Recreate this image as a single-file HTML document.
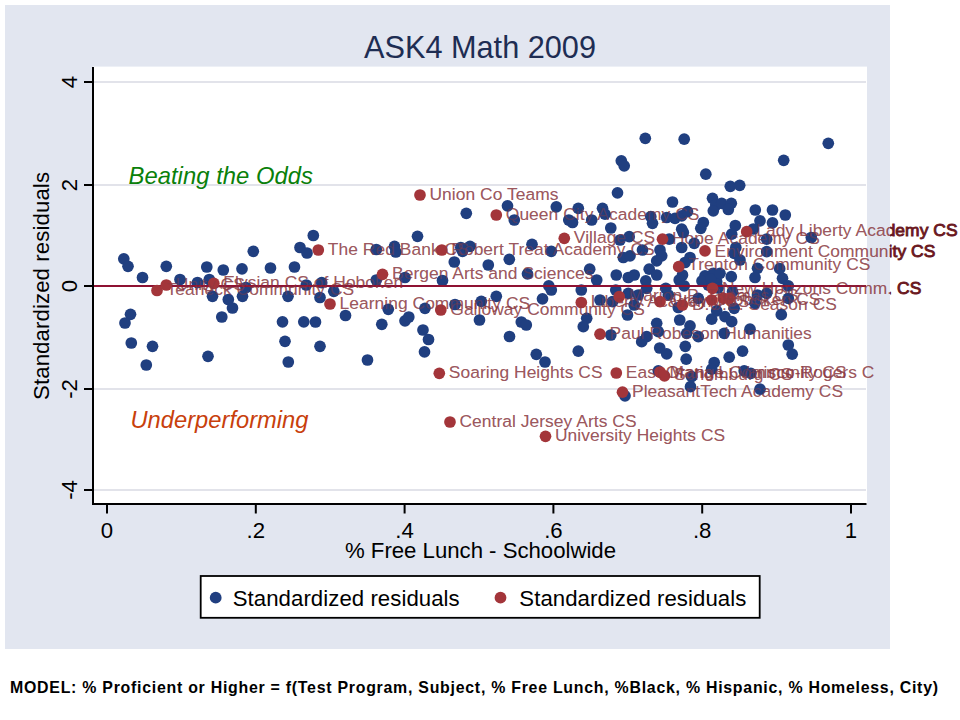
<!DOCTYPE html>
<html><head><meta charset="utf-8"><title>ASK4 Math 2009</title>
<style>html,body{margin:0;padding:0;background:#fff;}body{width:960px;height:720px;overflow:hidden;font-family:"Liberation Sans",sans-serif;}svg{display:block;font-family:"Liberation Sans",sans-serif;}</style>
</head><body>
<svg width="960" height="720" viewBox="0 0 960 720">
<rect x="0" y="0" width="960" height="720" fill="#ffffff"/>
<rect x="5" y="5" width="885" height="644" fill="#e2e6f0"/>
<rect x="93" y="66.6" width="774" height="437.4" fill="#ffffff"/>
<line x1="94" x2="866" y1="82" y2="82" stroke="#e2e3ea" stroke-width="2"/>
<line x1="94" x2="866" y1="185" y2="185" stroke="#e2e3ea" stroke-width="2"/>
<line x1="94" x2="866" y1="389" y2="389" stroke="#e2e3ea" stroke-width="2"/>
<line x1="94" x2="866" y1="490" y2="490" stroke="#e2e3ea" stroke-width="2"/>
<text x="480" y="58" font-size="30.7" fill="#1e2d53" text-anchor="middle">ASK4 Math 2009</text>
<text x="128.5" y="183.5" font-size="23.8" font-style="italic" fill="#0a800a" textLength="184.5" lengthAdjust="spacing">Beating the Odds</text>
<text x="130.5" y="427.5" font-size="23.7" font-style="italic" fill="#c8400c" textLength="178" lengthAdjust="spacing">Underperforming</text>
<defs><clipPath id="cin0"><rect x="0" y="0" width="890" height="720"/></clipPath></defs>
<g fill="#8a3a42" fill-opacity="0.72" font-size="17.4" clip-path="url(#cin0)">
<text x="166.5" y="295.0" textLength="187.7" lengthAdjust="spacing">Teaneck Community CS</text>
<text x="175.8" y="289.5" textLength="69.0" lengthAdjust="spacing">Unity CS</text>
<text x="223.3" y="287.8" textLength="179.9" lengthAdjust="spacing">Elysian CS of Hoboken</text>
<text x="327.8" y="254.5" textLength="141.0" lengthAdjust="spacing">The Red Bank CS</text>
<text x="339.5" y="308.5" textLength="190.6" lengthAdjust="spacing">Learning Community CS</text>
<text x="429.5" y="199.5" textLength="129.0" lengthAdjust="spacing">Union Co Teams</text>
<text x="505.8" y="219.5" textLength="193.6" lengthAdjust="spacing">Queen City Academy CS</text>
<text x="451.3" y="254.5" textLength="203.3" lengthAdjust="spacing">Robert Treat Academy CS</text>
<text x="392.0" y="278.8" textLength="201.4" lengthAdjust="spacing">Bergen Arts and Sciences</text>
<text x="450.3" y="314.5" textLength="194.5" lengthAdjust="spacing">Galloway Community CS</text>
<text x="573.8" y="242.8" textLength="81.4" lengthAdjust="spacing">Village CS</text>
<text x="448.8" y="377.8" textLength="153.7" lengthAdjust="spacing">Soaring Heights CS</text>
<text x="459.5" y="426.5" textLength="177.0" lengthAdjust="spacing">Central Jersey Arts CS</text>
<text x="555.0" y="440.8" textLength="170.2" lengthAdjust="spacing">University Heights CS</text>
<text x="672.0" y="243.7" textLength="147.8" lengthAdjust="spacing">Hope Academy CS</text>
<text x="714.5" y="256.8" textLength="220.8" lengthAdjust="spacing">Environment Community CS</text>
<text x="688.2" y="270.2" textLength="182.2" lengthAdjust="spacing">Trenton Community CS</text>
<text x="722.0" y="294.3" textLength="199.3" lengthAdjust="spacing">New Horizons Comm. CS</text>
<text x="590.8" y="307.0" textLength="158.5" lengthAdjust="spacing">Liberty Academy CS</text>
<text x="628.7" y="301.2" textLength="169.6" lengthAdjust="spacing">Marion P. Thomas CS</text>
<text x="669.5" y="306.2" textLength="67.1" lengthAdjust="spacing">Gray CS</text>
<text x="692.0" y="309.5" textLength="144.9" lengthAdjust="spacing">D.U.E. Season CS</text>
<text x="721.2" y="304.5" textLength="99.2" lengthAdjust="spacing">Hoboken CS</text>
<text x="609.5" y="338.7" textLength="202.3" lengthAdjust="spacing">Paul Robeson Humanities</text>
<text x="756.2" y="236.2" textLength="201.3" lengthAdjust="spacing">Lady Liberty Academy CS</text>
<text x="625.8" y="377.5" textLength="220.8" lengthAdjust="spacing">East Orange Community CS</text>
<text x="669.5" y="377.5" textLength="204.9" lengthAdjust="spacing">Maria L. Varisco-Rogers C</text>
<text x="632.0" y="396.7" textLength="211.1" lengthAdjust="spacing">PleasantTech Academy CS</text>
<text x="674.0" y="380.3" textLength="118.7" lengthAdjust="spacing">Schomburg CS</text>
</g>
<g fill="#203f80">
<circle cx="123.8" cy="258.8" r="5.85"/>
<circle cx="128.0" cy="266.3" r="5.85"/>
<circle cx="142.5" cy="277.5" r="5.85"/>
<circle cx="166.3" cy="266.3" r="5.85"/>
<circle cx="180.0" cy="279.5" r="5.85"/>
<circle cx="197.5" cy="282.5" r="5.85"/>
<circle cx="206.8" cy="267.0" r="5.85"/>
<circle cx="209.3" cy="279.5" r="5.85"/>
<circle cx="223.3" cy="270.0" r="5.85"/>
<circle cx="242.0" cy="268.8" r="5.85"/>
<circle cx="253.3" cy="251.3" r="5.85"/>
<circle cx="270.5" cy="268.0" r="5.85"/>
<circle cx="294.5" cy="267.0" r="5.85"/>
<circle cx="313.3" cy="235.5" r="5.85"/>
<circle cx="300.0" cy="247.5" r="5.85"/>
<circle cx="307.0" cy="253.0" r="5.85"/>
<circle cx="212.5" cy="296.3" r="5.85"/>
<circle cx="228.3" cy="299.5" r="5.85"/>
<circle cx="232.5" cy="308.0" r="5.85"/>
<circle cx="242.5" cy="296.3" r="5.85"/>
<circle cx="246.0" cy="287.5" r="5.85"/>
<circle cx="221.8" cy="317.0" r="5.85"/>
<circle cx="130.5" cy="314.3" r="5.85"/>
<circle cx="125.0" cy="323.0" r="5.85"/>
<circle cx="131.3" cy="343.0" r="5.85"/>
<circle cx="152.5" cy="346.3" r="5.85"/>
<circle cx="146.3" cy="365.0" r="5.85"/>
<circle cx="208.0" cy="356.3" r="5.85"/>
<circle cx="282.5" cy="321.8" r="5.85"/>
<circle cx="288.0" cy="296.3" r="5.85"/>
<circle cx="303.8" cy="321.8" r="5.85"/>
<circle cx="315.5" cy="322.0" r="5.85"/>
<circle cx="285.0" cy="341.3" r="5.85"/>
<circle cx="288.3" cy="362.0" r="5.85"/>
<circle cx="320.0" cy="346.3" r="5.85"/>
<circle cx="320.0" cy="297.5" r="5.85"/>
<circle cx="306.3" cy="285.0" r="5.85"/>
<circle cx="333.8" cy="291.3" r="5.85"/>
<circle cx="321.7" cy="282.7" r="5.85"/>
<circle cx="466.3" cy="213.3" r="5.85"/>
<circle cx="507.5" cy="205.8" r="5.85"/>
<circle cx="514.3" cy="220.0" r="5.85"/>
<circle cx="556.3" cy="206.8" r="5.85"/>
<circle cx="417.5" cy="236.3" r="5.85"/>
<circle cx="376.3" cy="249.5" r="5.85"/>
<circle cx="394.5" cy="246.3" r="5.85"/>
<circle cx="395.8" cy="252.0" r="5.85"/>
<circle cx="460.8" cy="247.5" r="5.85"/>
<circle cx="462.5" cy="251.3" r="5.85"/>
<circle cx="470.0" cy="246.3" r="5.85"/>
<circle cx="532.0" cy="244.3" r="5.85"/>
<circle cx="551.3" cy="251.3" r="5.85"/>
<circle cx="454.3" cy="262.0" r="5.85"/>
<circle cx="488.3" cy="265.0" r="5.85"/>
<circle cx="509.3" cy="259.3" r="5.85"/>
<circle cx="527.5" cy="273.8" r="5.85"/>
<circle cx="405.0" cy="277.5" r="5.85"/>
<circle cx="442.5" cy="280.5" r="5.85"/>
<circle cx="376.3" cy="280.0" r="5.85"/>
<circle cx="548.8" cy="285.8" r="5.85"/>
<circle cx="551.3" cy="290.0" r="5.85"/>
<circle cx="542.5" cy="298.8" r="5.85"/>
<circle cx="496.3" cy="296.3" r="5.85"/>
<circle cx="481.3" cy="301.3" r="5.85"/>
<circle cx="455.0" cy="304.5" r="5.85"/>
<circle cx="425.0" cy="308.3" r="5.85"/>
<circle cx="388.3" cy="309.3" r="5.85"/>
<circle cx="345.5" cy="315.5" r="5.85"/>
<circle cx="381.8" cy="324.3" r="5.85"/>
<circle cx="405.0" cy="320.8" r="5.85"/>
<circle cx="408.8" cy="317.0" r="5.85"/>
<circle cx="423.0" cy="330.0" r="5.85"/>
<circle cx="428.5" cy="339.5" r="5.85"/>
<circle cx="479.5" cy="320.0" r="5.85"/>
<circle cx="521.3" cy="322.0" r="5.85"/>
<circle cx="526.3" cy="325.0" r="5.85"/>
<circle cx="509.5" cy="336.5" r="5.85"/>
<circle cx="568.8" cy="220.0" r="5.85"/>
<circle cx="424.5" cy="351.8" r="5.85"/>
<circle cx="367.5" cy="360.0" r="5.85"/>
<circle cx="536.3" cy="354.3" r="5.85"/>
<circle cx="545.0" cy="362.0" r="5.85"/>
<circle cx="645.3" cy="138.3" r="5.85"/>
<circle cx="684.2" cy="139.2" r="5.85"/>
<circle cx="621.3" cy="160.8" r="5.85"/>
<circle cx="624.2" cy="165.8" r="5.85"/>
<circle cx="705.8" cy="174.2" r="5.85"/>
<circle cx="617.5" cy="192.8" r="5.85"/>
<circle cx="672.5" cy="202.0" r="5.85"/>
<circle cx="712.5" cy="198.3" r="5.85"/>
<circle cx="715.8" cy="205.0" r="5.85"/>
<circle cx="713.3" cy="210.8" r="5.85"/>
<circle cx="578.3" cy="208.3" r="5.85"/>
<circle cx="602.5" cy="208.3" r="5.85"/>
<circle cx="605.0" cy="214.2" r="5.85"/>
<circle cx="572.5" cy="222.5" r="5.85"/>
<circle cx="591.7" cy="220.0" r="5.85"/>
<circle cx="610.8" cy="228.0" r="5.85"/>
<circle cx="650.8" cy="216.7" r="5.85"/>
<circle cx="652.5" cy="223.3" r="5.85"/>
<circle cx="666.7" cy="217.5" r="5.85"/>
<circle cx="675.0" cy="218.3" r="5.85"/>
<circle cx="681.7" cy="215.8" r="5.85"/>
<circle cx="687.5" cy="211.7" r="5.85"/>
<circle cx="703.3" cy="222.5" r="5.85"/>
<circle cx="700.8" cy="228.3" r="5.85"/>
<circle cx="681.7" cy="229.2" r="5.85"/>
<circle cx="828.3" cy="143.3" r="5.85"/>
<circle cx="783.7" cy="160.3" r="5.85"/>
<circle cx="730.3" cy="186.3" r="5.85"/>
<circle cx="739.7" cy="185.3" r="5.85"/>
<circle cx="721.7" cy="203.3" r="5.85"/>
<circle cx="731.3" cy="203.3" r="5.85"/>
<circle cx="728.3" cy="209.5" r="5.85"/>
<circle cx="755.3" cy="210.0" r="5.85"/>
<circle cx="772.5" cy="210.0" r="5.85"/>
<circle cx="785.3" cy="215.0" r="5.85"/>
<circle cx="760.0" cy="220.8" r="5.85"/>
<circle cx="772.5" cy="222.8" r="5.85"/>
<circle cx="735.3" cy="225.5" r="5.85"/>
<circle cx="753.3" cy="229.0" r="5.85"/>
<circle cx="629.2" cy="236.7" r="5.85"/>
<circle cx="620.0" cy="240.0" r="5.85"/>
<circle cx="683.3" cy="232.5" r="5.85"/>
<circle cx="669.2" cy="239.2" r="5.85"/>
<circle cx="694.2" cy="243.3" r="5.85"/>
<circle cx="681.7" cy="247.5" r="5.85"/>
<circle cx="642.5" cy="250.0" r="5.85"/>
<circle cx="623.3" cy="257.5" r="5.85"/>
<circle cx="630.0" cy="255.8" r="5.85"/>
<circle cx="660.0" cy="250.0" r="5.85"/>
<circle cx="661.7" cy="255.8" r="5.85"/>
<circle cx="656.7" cy="260.8" r="5.85"/>
<circle cx="690.0" cy="257.5" r="5.85"/>
<circle cx="685.0" cy="262.5" r="5.85"/>
<circle cx="589.7" cy="269.2" r="5.85"/>
<circle cx="596.7" cy="280.0" r="5.85"/>
<circle cx="616.3" cy="275.0" r="5.85"/>
<circle cx="628.3" cy="277.5" r="5.85"/>
<circle cx="634.2" cy="275.0" r="5.85"/>
<circle cx="649.2" cy="269.2" r="5.85"/>
<circle cx="656.7" cy="275.0" r="5.85"/>
<circle cx="645.8" cy="280.8" r="5.85"/>
<circle cx="682.5" cy="275.0" r="5.85"/>
<circle cx="679.2" cy="280.0" r="5.85"/>
<circle cx="684.2" cy="285.8" r="5.85"/>
<circle cx="705.0" cy="275.8" r="5.85"/>
<circle cx="713.3" cy="273.3" r="5.85"/>
<circle cx="708.3" cy="285.0" r="5.85"/>
<circle cx="716.7" cy="281.7" r="5.85"/>
<circle cx="581.3" cy="290.0" r="5.85"/>
<circle cx="615.8" cy="290.0" r="5.85"/>
<circle cx="646.7" cy="288.3" r="5.85"/>
<circle cx="665.8" cy="288.3" r="5.85"/>
<circle cx="628.3" cy="293.3" r="5.85"/>
<circle cx="600.0" cy="300.0" r="5.85"/>
<circle cx="612.5" cy="301.7" r="5.85"/>
<circle cx="634.2" cy="305.0" r="5.85"/>
<circle cx="627.5" cy="315.0" r="5.85"/>
<circle cx="586.7" cy="318.3" r="5.85"/>
<circle cx="583.3" cy="326.7" r="5.85"/>
<circle cx="679.7" cy="320.0" r="5.85"/>
<circle cx="656.7" cy="323.3" r="5.85"/>
<circle cx="658.3" cy="331.7" r="5.85"/>
<circle cx="690.0" cy="325.8" r="5.85"/>
<circle cx="686.7" cy="333.3" r="5.85"/>
<circle cx="711.7" cy="319.2" r="5.85"/>
<circle cx="716.7" cy="310.8" r="5.85"/>
<circle cx="610.8" cy="335.0" r="5.85"/>
<circle cx="646.7" cy="336.7" r="5.85"/>
<circle cx="698.3" cy="336.7" r="5.85"/>
<circle cx="678.3" cy="307.5" r="5.85"/>
<circle cx="638.3" cy="295.0" r="5.85"/>
<circle cx="668.3" cy="295.0" r="5.85"/>
<circle cx="698.3" cy="298.3" r="5.85"/>
<circle cx="702.0" cy="281.0" r="5.85"/>
<circle cx="711.0" cy="279.0" r="5.85"/>
<circle cx="718.0" cy="288.0" r="5.85"/>
<circle cx="731.7" cy="234.2" r="5.85"/>
<circle cx="811.3" cy="237.5" r="5.85"/>
<circle cx="766.7" cy="239.2" r="5.85"/>
<circle cx="735.8" cy="247.5" r="5.85"/>
<circle cx="734.2" cy="253.3" r="5.85"/>
<circle cx="766.7" cy="251.7" r="5.85"/>
<circle cx="740.0" cy="260.0" r="5.85"/>
<circle cx="757.5" cy="268.3" r="5.85"/>
<circle cx="755.0" cy="277.5" r="5.85"/>
<circle cx="779.7" cy="268.7" r="5.85"/>
<circle cx="782.5" cy="278.3" r="5.85"/>
<circle cx="731.3" cy="276.7" r="5.85"/>
<circle cx="720.0" cy="273.3" r="5.85"/>
<circle cx="788.3" cy="285.8" r="5.85"/>
<circle cx="732.5" cy="291.7" r="5.85"/>
<circle cx="757.5" cy="295.0" r="5.85"/>
<circle cx="766.7" cy="293.3" r="5.85"/>
<circle cx="755.0" cy="303.3" r="5.85"/>
<circle cx="788.3" cy="298.3" r="5.85"/>
<circle cx="734.2" cy="308.3" r="5.85"/>
<circle cx="781.3" cy="314.7" r="5.85"/>
<circle cx="725.0" cy="316.7" r="5.85"/>
<circle cx="731.7" cy="321.7" r="5.85"/>
<circle cx="750.0" cy="329.2" r="5.85"/>
<circle cx="724.2" cy="333.3" r="5.85"/>
<circle cx="578.3" cy="351.2" r="5.85"/>
<circle cx="641.7" cy="341.7" r="5.85"/>
<circle cx="659.7" cy="348.0" r="5.85"/>
<circle cx="666.7" cy="353.8" r="5.85"/>
<circle cx="685.3" cy="346.3" r="5.85"/>
<circle cx="686.2" cy="359.2" r="5.85"/>
<circle cx="714.2" cy="362.5" r="5.85"/>
<circle cx="711.7" cy="369.2" r="5.85"/>
<circle cx="658.3" cy="370.8" r="5.85"/>
<circle cx="690.5" cy="386.7" r="5.85"/>
<circle cx="625.0" cy="395.8" r="5.85"/>
<circle cx="691.7" cy="376.7" r="5.85"/>
<circle cx="742.5" cy="351.2" r="5.85"/>
<circle cx="729.2" cy="357.2" r="5.85"/>
<circle cx="788.3" cy="345.0" r="5.85"/>
<circle cx="792.2" cy="354.2" r="5.85"/>
<circle cx="744.2" cy="370.8" r="5.85"/>
<circle cx="760.0" cy="389.2" r="5.85"/>
<circle cx="750.8" cy="373.3" r="5.85"/>
</g>
<rect x="94" y="285" width="772" height="2" fill="#8e1233"/>
<g fill="#a3353a">
<circle cx="157.0" cy="290.5" r="5.85"/>
<circle cx="166.3" cy="285.0" r="5.85"/>
<circle cx="213.8" cy="283.3" r="5.85"/>
<circle cx="318.3" cy="250.0" r="5.85"/>
<circle cx="330.0" cy="304.0" r="5.85"/>
<circle cx="420.0" cy="195.0" r="5.85"/>
<circle cx="496.3" cy="215.0" r="5.85"/>
<circle cx="441.8" cy="250.0" r="5.85"/>
<circle cx="382.5" cy="274.3" r="5.85"/>
<circle cx="440.8" cy="310.0" r="5.85"/>
<circle cx="564.3" cy="238.3" r="5.85"/>
<circle cx="439.3" cy="373.3" r="5.85"/>
<circle cx="450.0" cy="422.0" r="5.85"/>
<circle cx="545.5" cy="436.3" r="5.85"/>
<circle cx="662.5" cy="239.2" r="5.85"/>
<circle cx="705.0" cy="250.8" r="5.85"/>
<circle cx="678.7" cy="266.7" r="5.85"/>
<circle cx="712.5" cy="288.3" r="5.85"/>
<circle cx="581.3" cy="302.5" r="5.85"/>
<circle cx="619.2" cy="296.7" r="5.85"/>
<circle cx="660.0" cy="301.7" r="5.85"/>
<circle cx="682.5" cy="305.0" r="5.85"/>
<circle cx="711.7" cy="300.0" r="5.85"/>
<circle cx="723.3" cy="298.3" r="5.85"/>
<circle cx="729.2" cy="298.3" r="5.85"/>
<circle cx="600.0" cy="334.2" r="5.85"/>
<circle cx="746.7" cy="231.7" r="5.85"/>
<circle cx="616.3" cy="373.0" r="5.85"/>
<circle cx="660.0" cy="372.0" r="5.85"/>
<circle cx="622.5" cy="392.2" r="5.85"/>
<circle cx="664.5" cy="375.8" r="5.85"/>
</g>
<defs><clipPath id="cin"><rect x="0" y="0" width="890" height="720"/></clipPath><clipPath id="cout"><rect x="890" y="0" width="70" height="720"/></clipPath></defs>
<g fill="#8a3a42" fill-opacity="0.45" font-size="17.4" clip-path="url(#cin)">
<text x="166.5" y="295.0" textLength="187.7" lengthAdjust="spacing">Teaneck Community CS</text>
<text x="175.8" y="289.5" textLength="69.0" lengthAdjust="spacing">Unity CS</text>
<text x="223.3" y="287.8" textLength="179.9" lengthAdjust="spacing">Elysian CS of Hoboken</text>
<text x="327.8" y="254.5" textLength="141.0" lengthAdjust="spacing">The Red Bank CS</text>
<text x="339.5" y="308.5" textLength="190.6" lengthAdjust="spacing">Learning Community CS</text>
<text x="429.5" y="199.5" textLength="129.0" lengthAdjust="spacing">Union Co Teams</text>
<text x="505.8" y="219.5" textLength="193.6" lengthAdjust="spacing">Queen City Academy CS</text>
<text x="451.3" y="254.5" textLength="203.3" lengthAdjust="spacing">Robert Treat Academy CS</text>
<text x="392.0" y="278.8" textLength="201.4" lengthAdjust="spacing">Bergen Arts and Sciences</text>
<text x="450.3" y="314.5" textLength="194.5" lengthAdjust="spacing">Galloway Community CS</text>
<text x="573.8" y="242.8" textLength="81.4" lengthAdjust="spacing">Village CS</text>
<text x="448.8" y="377.8" textLength="153.7" lengthAdjust="spacing">Soaring Heights CS</text>
<text x="459.5" y="426.5" textLength="177.0" lengthAdjust="spacing">Central Jersey Arts CS</text>
<text x="555.0" y="440.8" textLength="170.2" lengthAdjust="spacing">University Heights CS</text>
<text x="672.0" y="243.7" textLength="147.8" lengthAdjust="spacing">Hope Academy CS</text>
<text x="714.5" y="256.8" textLength="220.8" lengthAdjust="spacing">Environment Community CS</text>
<text x="688.2" y="270.2" textLength="182.2" lengthAdjust="spacing">Trenton Community CS</text>
<text x="722.0" y="294.3" textLength="199.3" lengthAdjust="spacing">New Horizons Comm. CS</text>
<text x="590.8" y="307.0" textLength="158.5" lengthAdjust="spacing">Liberty Academy CS</text>
<text x="628.7" y="301.2" textLength="169.6" lengthAdjust="spacing">Marion P. Thomas CS</text>
<text x="669.5" y="306.2" textLength="67.1" lengthAdjust="spacing">Gray CS</text>
<text x="692.0" y="309.5" textLength="144.9" lengthAdjust="spacing">D.U.E. Season CS</text>
<text x="721.2" y="304.5" textLength="99.2" lengthAdjust="spacing">Hoboken CS</text>
<text x="609.5" y="338.7" textLength="202.3" lengthAdjust="spacing">Paul Robeson Humanities</text>
<text x="756.2" y="236.2" textLength="201.3" lengthAdjust="spacing">Lady Liberty Academy CS</text>
<text x="625.8" y="377.5" textLength="220.8" lengthAdjust="spacing">East Orange Community CS</text>
<text x="669.5" y="377.5" textLength="204.9" lengthAdjust="spacing">Maria L. Varisco-Rogers C</text>
<text x="632.0" y="396.7" textLength="211.1" lengthAdjust="spacing">PleasantTech Academy CS</text>
<text x="674.0" y="380.3" textLength="118.7" lengthAdjust="spacing">Schomburg CS</text>
</g>
<g fill="#6a1720" stroke="#6a1720" stroke-width="0.9" font-size="17.4" clip-path="url(#cout)">
<text x="714.5" y="256.8" textLength="220.8" lengthAdjust="spacing">Environment Community CS</text>
<text x="722.0" y="294.3" textLength="199.3" lengthAdjust="spacing">New Horizons Comm. CS</text>
<text x="756.2" y="236.2" textLength="201.3" lengthAdjust="spacing">Lady Liberty Academy CS</text>
</g>
<rect x="92" y="67" width="2" height="438" fill="#000"/>
<rect x="92" y="503" width="774.5" height="2" fill="#000"/>
<rect x="84" y="81" width="9" height="2" fill="#000"/>
<text transform="translate(77,82) rotate(-90)" font-size="22.2" text-anchor="middle" fill="#000">4</text>
<rect x="84" y="184" width="9" height="2" fill="#000"/>
<text transform="translate(77,185) rotate(-90)" font-size="22.2" text-anchor="middle" fill="#000">2</text>
<rect x="84" y="285" width="9" height="2" fill="#000"/>
<text transform="translate(77,286) rotate(-90)" font-size="22.2" text-anchor="middle" fill="#000">0</text>
<rect x="84" y="388" width="9" height="2" fill="#000"/>
<text transform="translate(77,389) rotate(-90)" font-size="22.2" text-anchor="middle" fill="#000">-2</text>
<rect x="84" y="489" width="9" height="2" fill="#000"/>
<text transform="translate(77,490) rotate(-90)" font-size="22.2" text-anchor="middle" fill="#000">-4</text>
<rect x="106.0" y="504" width="2" height="9.5" fill="#000"/>
<text x="107.0" y="537.5" font-size="22.2" text-anchor="middle" fill="#000">0</text>
<rect x="254.8" y="504" width="2" height="9.5" fill="#000"/>
<text x="255.8" y="537.5" font-size="22.2" text-anchor="middle" fill="#000">.2</text>
<rect x="403.6" y="504" width="2" height="9.5" fill="#000"/>
<text x="404.6" y="537.5" font-size="22.2" text-anchor="middle" fill="#000">.4</text>
<rect x="552.4" y="504" width="2" height="9.5" fill="#000"/>
<text x="553.4" y="537.5" font-size="22.2" text-anchor="middle" fill="#000">.6</text>
<rect x="701.2" y="504" width="2" height="9.5" fill="#000"/>
<text x="702.2" y="537.5" font-size="22.2" text-anchor="middle" fill="#000">.8</text>
<rect x="850.0" y="504" width="2" height="9.5" fill="#000"/>
<text x="851.0" y="537.5" font-size="22.2" text-anchor="middle" fill="#000">1</text>
<text transform="translate(49.3,286) rotate(-90)" font-size="22.2" text-anchor="middle" fill="#000" textLength="228" lengthAdjust="spacing">Standardized residuals</text>
<text x="345" y="558.3" font-size="22.2" fill="#000" textLength="271" lengthAdjust="spacing">% Free Lunch - Schoolwide</text>
<rect x="200.7" y="576" width="559" height="41.8" fill="#fff" stroke="#000" stroke-width="1.8"/>
<circle cx="215.7" cy="597.7" r="5.9" fill="#203f80"/>
<text x="232.7" y="606" font-size="22.2" fill="#000" textLength="227" lengthAdjust="spacing">Standardized residuals</text>
<circle cx="500.5" cy="597.7" r="5.9" fill="#a3353a"/>
<text x="519.3" y="606" font-size="22.2" fill="#000" textLength="227" lengthAdjust="spacing">Standardized residuals</text>
<text x="10" y="692.8" font-size="15.9" font-weight="bold" fill="#000" textLength="928" lengthAdjust="spacing">MODEL: % Proficient or Higher = f(Test Program, Subject, % Free Lunch, %Black, % Hispanic, % Homeless, City)</text>
</svg></body></html>
